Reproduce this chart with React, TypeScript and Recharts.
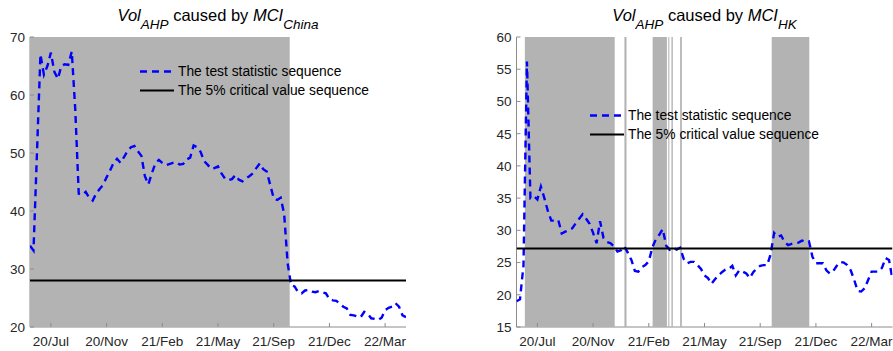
import { LineChart, Line, XAxis, YAxis, ReferenceArea, Legend } from "recharts";

// x positions are observation indices; labels sit every 16 obs
const tickIdx = [6, 22, 38, 54, 70, 86, 102];
const tickLabels = ["20/Jul", "20/Nov", "21/Feb", "21/May", "21/Sep", "21/Dec", "22/Mar"];

const chinaStat = [
  34.0, 33.2, 50.0, 67.0, 63.5, 65.0, 67.3, 64.0, 62.8, 65.0,
  65.3, 65.2, 67.5, 57.5, 43.0, 42.8, 43.3, 42.3, 41.8, 43.0,
  43.8, 44.5, 45.8, 47.0, 48.3, 49.0, 48.3, 49.3, 50.3, 51.0,
  51.2, 50.3, 49.5, 46.0, 44.6, 46.5, 48.2, 48.8, 48.3, 47.9,
  48.1, 48.3, 48.4, 48.0, 48.1, 48.9, 49.2, 51.3, 51.0, 50.2,
  48.6, 48.0, 47.3, 47.4, 47.7, 46.5, 45.6, 45.3, 45.5, 46.2,
  45.4, 45.1, 45.6, 46.0, 46.5, 47.4, 48.2, 47.2, 46.8, 44.5,
  42.2, 41.9, 42.3, 39.5, 31.0, 27.2, 27.0, 26.0, 25.8, 26.3,
  26.4, 26.1, 26.0, 26.2, 26.0, 25.8, 24.8, 24.6, 24.5, 24.0,
  23.5, 23.2, 22.1, 22.0, 21.8, 21.7, 22.6, 22.3, 21.5, 21.4,
  21.2, 21.6, 22.9, 23.3, 23.5, 24.1, 23.5, 22.0, 21.7,
];

const hkStat = [
  19.0, 19.3, 24.5, 56.2, 35.0, 35.3, 34.8, 36.8, 35.0, 33.0,
  31.5, 31.5, 31.6, 29.5, 29.8, 30.0, 30.3, 31.1, 31.8, 32.5,
  31.8, 31.0, 29.6, 28.0, 31.4, 28.8, 28.2, 28.0, 27.5, 26.7,
  26.9, 27.5, 26.5, 25.4, 23.7, 23.6, 24.3, 24.6, 25.2, 27.3,
  28.6, 29.3, 30.2, 27.6, 27.0, 27.3, 27.0, 27.3, 25.6, 24.9,
  25.1, 25.1, 24.6, 24.0, 23.0, 22.6, 21.7, 22.4, 23.0, 23.5,
  23.9, 24.0, 24.5, 23.0, 23.8, 23.6, 23.3, 22.6, 23.5, 24.1,
  24.5, 24.6, 24.6, 26.3, 29.6, 29.0, 29.2, 28.2, 27.7, 27.9,
  28.0, 28.1, 28.4, 28.2, 28.3, 25.9, 24.9, 24.9, 24.9, 23.8,
  23.3, 23.7, 24.5, 25.1, 25.0, 24.6, 23.8, 22.3, 20.6, 20.5,
  21.0, 22.3, 23.6, 23.6, 23.6, 24.2, 25.7, 25.4, 22.4,
];

const chinaCrit = 28.0;
const hkCrit = 27.2;

// shaded spans (start idx, end idx) where the statistic beats the critical value
const chinaBands = [[0, 74.6]];
const hkBands = [
  [2.4, 28.2], [31.0, 31.6], [39.1, 43.2], [43.6, 43.9],
  [44.5, 44.9], [47.0, 47.5], [73.3, 84.1],
];

const chinaYTicks = [20, 30, 40, 50, 60, 70];
const hkYTicks = [15, 20, 25, 30, 35, 40, 45, 50, 55, 60];

const FONT = '"Liberation Sans", Arial, Helvetica, sans-serif';
const AXIS = "#8c8c8c";
const TXT = "#262626";
const GRAY = "#b3b3b3";
const PLOT_W = 376;

const BottomTick = ({ x, y, payload }: any) => (
  <g>
    <line x1={x} x2={x} y1={y} y2={y - 4} stroke={AXIS} />
    <text x={x} y={y + 19} textAnchor="middle" fill={TXT} fontSize={13.5} fontFamily={FONT}>
      {tickLabels[tickIdx.indexOf(payload.value)]}
    </text>
  </g>
);
const TopTick = ({ x, y }: any) => <line x1={x} x2={x} y1={y} y2={y + 4} stroke={AXIS} />;
const LeftTick = ({ x, y, payload }: any) => (
  <g>
    <line x1={x} x2={x + 4} y1={y} y2={y} stroke={AXIS} />
    <text x={x - 5} y={y} dy="0.36em" textAnchor="end" fill={TXT} fontSize={13.5} fontFamily={FONT}>
      {payload.value}
    </text>
  </g>
);
const RightTick = ({ x, y }: any) => <line x1={x} x2={x - 4} y1={y} y2={y} stroke={AXIS} />;

const LegendBox = ({ payload }: any) => {
  const items = [...(payload || [])].sort(
    (a: any, b: any) => (a.dataKey === "stat" ? 0 : 1) - (b.dataKey === "stat" ? 0 : 1)
  );
  return (
    <div style={{ fontFamily: FONT, fontSize: 13.8, color: "#000", whiteSpace: "nowrap" }}>
      {items.map((e: any) => (
        <div key={e.value} style={{ display: "flex", alignItems: "center", height: 19 }}>
          <svg width={34} height={19}>
            <line
              x1={0}
              x2={34}
              y1={9.5}
              y2={9.5}
              stroke={e.color}
              strokeWidth={e.payload?.strokeWidth ?? 2}
              strokeDasharray={e.payload?.strokeDasharray}
            />
          </svg>
          <span style={{ marginLeft: 4 }}>{e.value}</span>
        </div>
      ))}
    </div>
  );
};

function Panel({ left, width, yw, stat, crit, bands, yTicks, sub, legendLeft, legendTop }: any) {
  const rows = stat.map((v: number, i: number) => ({ i, stat: v, crit }));
  const cx = yw + PLOT_W / 2;
  return (
    <div style={{ position: "absolute", left, top: 0, width, height: 351 }}>
      <svg width={width} height={36} style={{ position: "absolute", left: 0, top: 0 }}>
        <text x={cx} y={21} textAnchor="middle" fontFamily={FONT} fontSize={16.5} fill="#000" style={{ whiteSpace: "pre" }}>
          <tspan fontStyle="italic">Vol</tspan>
          <tspan fontStyle="italic" fontSize={13.5} dy={8}>AHP</tspan>
          <tspan dy={-8}> caused by </tspan>
          <tspan fontStyle="italic">MCI</tspan>
          <tspan fontStyle="italic" fontSize={13.5} dy={8}>{sub}</tspan>
        </text>
      </svg>
      <LineChart
        width={width}
        height={351}
        data={rows}
        margin={{ top: 37, right: width - yw - PLOT_W, bottom: 0, left: 0 }}
      >
        <XAxis
          dataKey="i"
          type="number"
          domain={[0, 108]}
          ticks={tickIdx}
          height={24}
          tickSize={0}
          tickMargin={0}
          tickLine={false}
          tick={<BottomTick />}
          stroke={AXIS}
          allowDataOverflow
        />
        <XAxis
          xAxisId="top"
          orientation="top"
          dataKey="i"
          type="number"
          domain={[0, 108]}
          ticks={tickIdx}
          height={0}
          tickSize={0}
          tickMargin={0}
          tickLine={false}
          tick={<TopTick />}
          stroke={AXIS}
          allowDataOverflow
        />
        <YAxis
          type="number"
          domain={[yTicks[0], yTicks[yTicks.length - 1]]}
          ticks={yTicks}
          width={yw}
          tickSize={0}
          tickMargin={0}
          tickLine={false}
          tick={<LeftTick />}
          stroke={AXIS}
          allowDataOverflow
        />
        <YAxis
          yAxisId="r"
          orientation="right"
          type="number"
          domain={[yTicks[0], yTicks[yTicks.length - 1]]}
          ticks={yTicks}
          width={0}
          tickSize={0}
          tickMargin={0}
          tickLine={false}
          tick={<RightTick />}
          stroke={AXIS}
          allowDataOverflow
        />
        {bands.map((b: number[], k: number) => (
          <ReferenceArea
            key={k}
            x1={b[0]}
            x2={b[1]}
            fill={GRAY}
            fillOpacity={1}
            stroke="none"
            zIndex={550}
          />
        ))}
        <Line
          dataKey="stat"
          name="The test statistic sequence"
          stroke="#0000ff"
          strokeWidth={2.4}
          strokeDasharray="7 5"
          dot={false}
          activeDot={false}
          type="linear"
          isAnimationActive={false}
          zIndex={700}
        />
        <Line
          dataKey="crit"
          name="The 5% critical value sequence"
          stroke="#000000"
          strokeWidth={2}
          dot={false}
          activeDot={false}
          type="linear"
          isAnimationActive={false}
          zIndex={700}
        />
        <Legend
          layout="vertical"
          align="center"
          verticalAlign="middle"
          content={<LegendBox />}
          wrapperStyle={{ left: legendLeft, top: legendTop, width: "auto", height: "auto" }}
        />
      </LineChart>
    </div>
  );
}

export default function App() {
  return (
    <div
      style={{
        position: "absolute",
        left: 0,
        top: 0,
        width: 893,
        height: 351,
        background: "#fff",
        overflow: "hidden",
      }}
    >
      <Panel
        left={0}
        width={440}
        yw={30}
        stat={chinaStat}
        crit={chinaCrit}
        bands={chinaBands}
        yTicks={chinaYTicks}
        sub="China"
        legendLeft={140}
        legendTop={61.5}
      />
      <Panel
        left={470}
        width={423}
        yw={46.5}
        stat={hkStat}
        crit={hkCrit}
        bands={hkBands}
        yTicks={hkYTicks}
        sub="HK"
        legendLeft={120}
        legendTop={105.5}
      />
    </div>
  );
}
